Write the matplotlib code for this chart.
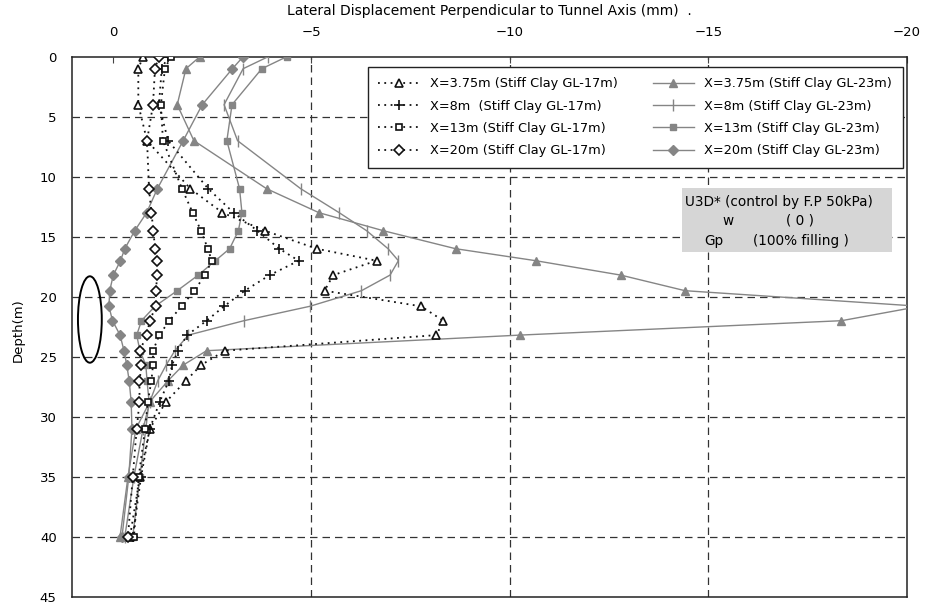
import matplotlib
matplotlib.use("Agg")
import matplotlib.pyplot as plt
from matplotlib.patches import Ellipse, Rectangle

# ---------------- data ----------------
depth = [0, 1, 4, 7, 11, 13, 14.5, 16, 17, 18.2, 19.5, 20.8, 22, 23.2,
         24.5, 25.7, 27, 28.75, 31, 35, 40]

# G.L-17m (dotted, open markers)
s17_x375 = [-0.76, -0.64, -0.64, -0.86, -1.95, -2.76, -3.83, -5.13, -6.64, -5.55, -5.33,
            -7.76, -8.32, -8.15, -2.82, -2.22, -1.84, -1.34, -0.93, -0.68, -0.43]
s17_x8 = [-1.39, -1.23, -1.16, -1.39, -2.40, -3.04, -3.64, -4.19, -4.68, -3.95, -3.32,
          -2.80, -2.36, -1.87, -1.64, -1.49, -1.41, -1.18, -0.93, -0.71, -0.50]
s17_x13 = [-1.46, -1.31, -1.21, -1.26, -1.74, -2.01, -2.22, -2.39, -2.49, -2.32, -2.05,
           -1.73, -1.42, -1.17, -1.01, -1.01, -0.97, -0.88, -0.81, -0.65, -0.53]
s17_x20 = [-1.16, -1.06, -1.01, -0.86, -0.91, -0.97, -1.02, -1.06, -1.12, -1.12, -1.08,
           -1.08, -0.93, -0.85, -0.68, -0.72, -0.67, -0.67, -0.60, -0.50, -0.38]

# G.L-23m (grey solid, filled markers)
s23_x375 = [-2.19, -1.84, -1.62, -2.04, -3.87, -5.19, -6.81, -8.63, -10.65, -12.79, -14.41,
            -20.33, -18.35, -10.25, -2.36, -1.77, -1.39, -0.93, -0.58, -0.38, -0.18]
s23_x8 = [-3.91, -3.28, -2.80, -3.14, -4.73, -5.70, -6.39, -6.93, -7.19, -6.98, -6.26,
          -4.96, -3.30, -1.90, -1.56, -1.34, -1.13, -0.93, -0.76, -0.53, -0.30]
s23_x13 = [-4.38, -3.75, -3.00, -2.87, -3.19, -3.25, -3.16, -2.94, -2.58, -2.15, -1.62,
           -1.06, -0.72, -0.60, -0.68, -0.83, -0.86, -0.91, -0.83, -0.68, -0.50]
s23_x20 = [-3.28, -3.01, -2.25, -1.77, -1.12, -0.85, -0.55, -0.30, -0.19, -0.01, 0.08,
           0.10, 0.01, -0.18, -0.28, -0.35, -0.41, -0.46, -0.48, -0.40, -0.23]

labels17 = ["X=3.75m (Stiff Clay GL-17m)", "X=8m  (Stiff Clay GL-17m)",
            "X=13m (Stiff Clay GL-17m)", "X=20m (Stiff Clay GL-17m)"]
labels23 = ["X=3.75m (Stiff Clay GL-23m)", "X=8m (Stiff Clay GL-23m)",
            "X=13m (Stiff Clay GL-23m)", "X=20m (Stiff Clay GL-23m)"]

xticks = [0, -5, -10, -15, -20]
yticks = [0, 5, 10, 15, 20, 25, 30, 35, 40, 45]

# ---------------- figure ----------------
W, H = 930, 607
fig = plt.figure(figsize=(W / 100, H / 100), dpi=100)
ax = fig.add_axes([72 / W, 1 - 596.7 / H, 835 / W, 540 / H])

for v in xticks[1:-1]:
    ax.axvline(v, color="#333333", lw=0.9, ls=(0, (6, 4)), zorder=0)
for v in yticks[1:-1]:
    ax.axhline(v, color="#333333", lw=0.9, ls=(0, (6, 4)), zorder=0)

dot = (0, (1, 2.5))
blk = "#111111"
h17 = []
for vals, mk, ms, lab in zip([s17_x375, s17_x8, s17_x13, s17_x20],
                             ["^", "+", "s", "D"], [6, 7, 5, 4.8], labels17):
    ln, = ax.plot(vals, depth, ls=dot, lw=1.3, color=blk, marker=mk, ms=ms,
                  mfc="white", mec=blk, mew=1.2, label=lab, zorder=4)
    h17.append(ln)

gry = "#858585"
h23 = []
for vals, mk, ms, lab in zip([s23_x375, s23_x8, s23_x13, s23_x20],
                             ["^", "|", "s", "D"], [6, 8, 5, 5], labels23):
    ln, = ax.plot(vals, depth, ls="-", lw=1.0, color=gry, marker=mk, ms=ms,
                  mfc=gry, mec=gry, mew=1.0, label=lab, zorder=3)
    h23.append(ln)

ax.add_patch(Ellipse((0.58, 21.9), width=0.6, height=7.2, fill=False,
                     ec="black", lw=1.4, zorder=5))

ax.set_xlim(1.03, -20)
ax.set_ylim(45, 0)
ax.set_xticks(xticks)
ax.set_xticklabels(["0", "\u22125", "\u221210", "\u221215", "\u221220"])
ax.set_yticks(yticks)
ax.xaxis.tick_top()
ax.tick_params(axis="x", direction="in", length=4, pad=13, labelsize=9.5, color="#444444")
ax.tick_params(axis="y", direction="in", length=0, pad=11, labelsize=9.5)
for sp in ax.spines.values():
    sp.set_linewidth(1.1)
    sp.set_color("#222222")

fig.text(489.5 / W, 1 - 11 / H, "Lateral Displacement Perpendicular to Tunnel Axis (mm)  .",
         ha="center", va="center", fontsize=10)
fig.text(18 / W, 1 - 330 / H, "Depth(m)", rotation=90, ha="center", va="center", fontsize=9.5)

leg = ax.legend(handles=h17 + h23, ncol=2, loc="upper left",
                bbox_to_anchor=((368 - 72) / 835, 1 - (67 - 56.7) / 540),
                borderaxespad=0, fontsize=9.3, frameon=True, fancybox=False,
                handlelength=3.2, handletextpad=0.8, columnspacing=2.7,
                labelspacing=0.72, borderpad=0.8)
leg.get_frame().set_edgecolor("#222222")
leg.get_frame().set_linewidth(1.0)
leg.get_frame().set_alpha(1)

# note box
fig.patches.append(Rectangle((682 / W, 1 - 252 / H), 210 / W, 64 / H,
                             transform=fig.transFigure, fc="#d6d6d6", ec="none", zorder=1))
fs = 9.8
fig.text(685 / W, 1 - 202 / H, "U3D* (control by F.P 50kPa)", ha="left", va="center", fontsize=fs)
fig.text(728 / W, 1 - 221 / H, "w", ha="center", va="center", fontsize=fs)
fig.text(800 / W, 1 - 221 / H, "( 0 )", ha="center", va="center", fontsize=fs)
fig.text(714 / W, 1 - 241 / H, "Gp", ha="center", va="center", fontsize=fs)
fig.text(801 / W, 1 - 241 / H, "(100% filling )", ha="center", va="center", fontsize=fs)

fig.savefig("out.png", dpi=100, facecolor="white")
